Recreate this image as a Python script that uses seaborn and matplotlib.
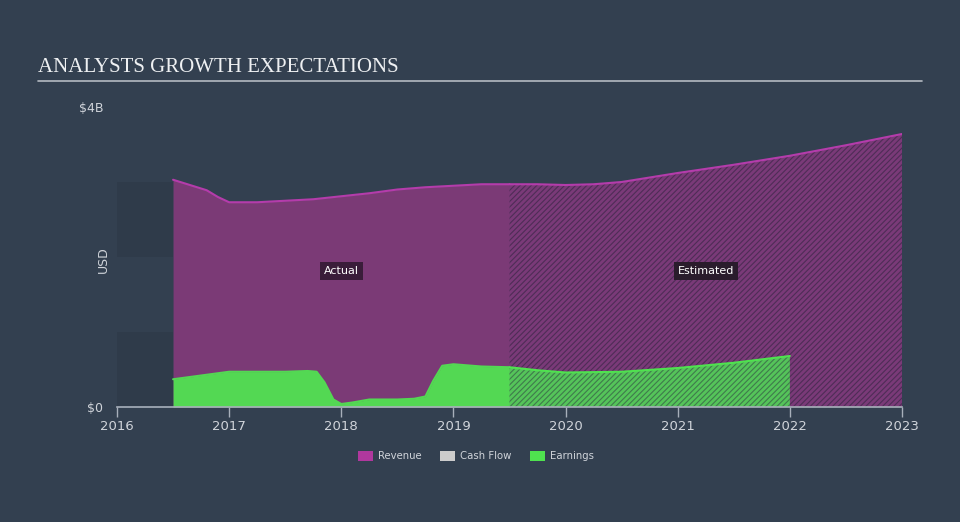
import matplotlib
matplotlib.use("Agg")
import matplotlib.pyplot as plt
import seaborn as sns
import pandas as pd
import numpy as np
from matplotlib.patches import Patch

# ---- data (billions USD) ----
rev_act_x = [2016.5, 2016.65, 2016.8, 2016.9, 2017.0, 2017.25, 2017.5, 2017.75, 2018.0, 2018.25, 2018.5, 2018.75, 2019.0, 2019.25, 2019.5]
rev_act_y = [3.03, 2.96, 2.89, 2.80, 2.73, 2.73, 2.75, 2.77, 2.81, 2.85, 2.90, 2.93, 2.95, 2.97, 2.97]
rev_est_x = [2019.5, 2019.75, 2020.0, 2020.25, 2020.5, 2020.75, 2021.0, 2021.5, 2022.0, 2022.5, 2023.0]
rev_est_y = [2.97, 2.97, 2.96, 2.97, 3.00, 3.06, 3.12, 3.23, 3.35, 3.49, 3.64]

earn_act_x = [2016.5, 2016.75, 2017.0, 2017.25, 2017.5, 2017.7, 2017.78, 2017.85, 2017.93, 2018.0, 2018.1, 2018.25, 2018.5, 2018.65, 2018.75, 2018.82, 2018.9, 2019.0, 2019.25, 2019.5]
earn_act_y = [0.37, 0.42, 0.47, 0.47, 0.47, 0.48, 0.47, 0.33, 0.10, 0.04, 0.06, 0.10, 0.10, 0.11, 0.14, 0.35, 0.55, 0.57, 0.54, 0.53]
earn_est_x = [2019.5, 2019.75, 2020.0, 2020.5, 2021.0, 2021.5, 2022.0]
earn_est_y = [0.53, 0.49, 0.46, 0.47, 0.52, 0.59, 0.68]

year_ticks = [2016, 2017, 2018, 2019, 2020, 2021, 2022, 2023]
legend_labels = ["Revenue", "Cash Flow", "Earnings"]

BG = "#334050"
PURPLE_FILL = "#7b3a76"
PURPLE_LINE = "#b43cab"
GREEN = "#53d853"
TXT = "#d0d4da"

sns.set_theme(style="dark")
plt.rcParams["font.family"] = ["DejaVu Sans"]
plt.rcParams["hatch.linewidth"] = 0.8

fig = plt.figure(figsize=(9.6, 5.22), dpi=100, facecolor=BG)
ax = fig.add_axes([117/960, 115/522, 785/960, 300/522])
ax.set_facecolor(BG)

# past region bands
for lo, hi, c in [(0, 1, "#2f3b4a"), (1, 2, "#334050"), (2, 3, "#2f3b4a")]:
    ax.fill_between([2016, 2016.5], [lo*1e9]*2, [hi*1e9]*2, color=c, linewidth=0, zorder=0)

ra = pd.DataFrame({"x": rev_act_x, "y": np.array(rev_act_y)*1e9})
re = pd.DataFrame({"x": rev_est_x, "y": np.array(rev_est_y)*1e9})
ea = pd.DataFrame({"x": earn_act_x, "y": np.array(earn_act_y)*1e9})
ee = pd.DataFrame({"x": earn_est_x, "y": np.array(earn_est_y)*1e9})

ax.fill_between(ra.x, 0, ra.y, facecolor=PURPLE_FILL, linewidth=0, zorder=1)
ax.fill_between(re.x, 0, re.y, facecolor="#7a3a78", edgecolor="#4e2d56", hatch="//////", linewidth=0, zorder=1)
ax.fill_between(ea.x, 0, ea.y, facecolor=GREEN, linewidth=0, zorder=2)
ax.fill_between(ee.x, 0, ee.y, facecolor="#55c45a", edgecolor="#3f7a4c", hatch="//////", linewidth=0, zorder=2)

sns.lineplot(data=ra, x="x", y="y", ax=ax, color=PURPLE_LINE, lw=1.5, zorder=3)
sns.lineplot(data=re, x="x", y="y", ax=ax, color=PURPLE_LINE, lw=1.5, zorder=3)
sns.lineplot(data=ea, x="x", y="y", ax=ax, color=GREEN, lw=1.5, zorder=3)
sns.lineplot(data=ee, x="x", y="y", ax=ax, color="#4fe24f", lw=1.5, zorder=3)

ax.set_xlim(2016, 2023)
ax.set_ylim(0, 4e9)
ax.set_xticks(year_ticks)
ax.set_xticklabels([str(y) for y in year_ticks], color=TXT, fontsize=9.5)
ax.set_yticks([0, 4e9])
ax.set_yticklabels(["$0", "$4B"], color=TXT, fontsize=9)
ax.tick_params(axis="x", direction="out", length=7, width=1, color="#a8b0bb", pad=2, bottom=True)
ax.tick_params(axis="y", length=0, pad=10)
ax.set_xlabel("")
ax.set_ylabel("")
ax.grid(False)
for s in ["top", "right", "left"]:
    ax.spines[s].set_visible(False)
ax.spines["bottom"].set_color("#a8b0bb")
ax.spines["bottom"].set_linewidth(1.2)

# labels
ax.text(2018.0, 1.81e9, "Actual", color="white", fontsize=8, ha="center", va="center",
        bbox=dict(boxstyle="square,pad=0.35", fc="#3a1d3a", ec="none"), zorder=5)
ax.text(2021.25, 1.81e9, "Estimated", color="white", fontsize=8, ha="center", va="center",
        bbox=dict(boxstyle="square,pad=0.35", fc="#2a1c2c", ec="none"), zorder=5)

fig.text(103/960, 1 - 260/522, "USD", rotation=90, color=TXT, fontsize=9, ha="center", va="center")

# title
fig.text(38/960, 1 - 67/522, "ANALYSTS GROWTH EXPECTATIONS", family=["Liberation Serif"],
         color="#eef0f2", fontsize=15, ha="left", va="center")
fig.add_artist(plt.Line2D([38/960, 922/960], [1 - 81/522]*2, color="#b4bac2", lw=1.2))

# legend
handles = [Patch(facecolor="#b0389e", edgecolor="none"), Patch(facecolor="#cccccc", edgecolor="none"),
           Patch(facecolor="#4fe24f", edgecolor="none")]
fig.legend(handles, legend_labels, loc="center", bbox_to_anchor=(476/960, 1 - 456/522), ncol=3,
           frameon=False, fontsize=7.3, labelcolor=TXT, handlelength=1.5, handleheight=1.1,
           columnspacing=1.8, handletextpad=0.5)

fig.savefig("out.png", dpi=100, facecolor=BG)
